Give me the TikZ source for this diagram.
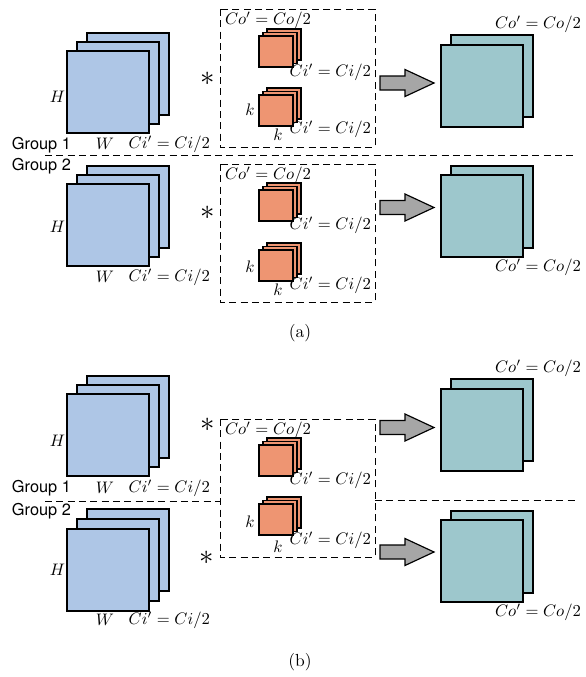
\documentclass[tikz,border=0pt]{standalone}
\usepackage{amsmath,xcolor,tikz}
\usepackage{fontspec}
\newfontfamily\grpfont{TeX Gyre Heros}

\definecolor{inblue}{HTML}{AEC6E6}
\definecolor{kerorange}{HTML}{EE9572}
\definecolor{outteal}{HTML}{9DC7CC}
\definecolor{arrgray}{HTML}{A6A6A6}

% stack of maps: x, y (top left of front one), w, h, last index, dx, dy, fill
\newcommand{\layers}[8]{%
	\foreach \i in {#5,...,0}
		\draw[line width=0.7pt, fill=#8] ({#1+\i*#6},{#2-\i*#7}) rectangle ({#1+\i*#6+#3},{#2-\i*#7+#4});
}
% fat arrow: left end x, centre y
\newcommand{\fatarrow}[2]{%
	\draw[line width=0.7pt, fill=arrgray] (#1,{#2-7}) -- ({#1+25},{#2-7}) -- ({#1+25},{#2-13.5}) -- ({#1+54},#2)
		-- ({#1+25},{#2+13.5}) -- ({#1+25},{#2+7}) -- (#1,{#2+7}) -- cycle;
}

\begin{document}
\begin{tikzpicture}[x=0.6pt, y=-0.6pt,
		every node/.style={font=\fontsize{9.6}{11}\selectfont, inner sep=1pt},
		grp/.style={font=\grpfont\fontsize{9.8}{11}\selectfont},
		conv/.style={font=\LARGE},
		cut/.style={dash pattern=on 4.2pt off 2.6pt, line width=0.6pt}]
			\useasboundingbox (0,0) rectangle (586,677);
			% (a)
			\layers{67}{51}{82}{82}{2}{10}{9}{inblue}
			\layers{67}{184}{82}{82}{2}{10}{9}{inblue}
			\layers{259}{36}{34}{31}{2}{4}{3.5}{kerorange}
			\layers{259}{95}{34}{31}{2}{4}{3.5}{kerorange}
			\layers{259}{190}{34}{31}{2}{4}{3.5}{kerorange}
			\layers{259}{250}{34}{31}{2}{4}{3.5}{kerorange}
			\layers{441}{45}{82}{82}{1}{10}{10}{outteal}
			\layers{441}{175}{82}{82}{1}{10}{9}{outteal}
			\fatarrow{380}{83}
			\fatarrow{380}{207.5}
			\draw[cut] (220,9) rectangle (375,147);
			\draw[cut] (220,164) rectangle (375,302);
			\draw[cut] (45,155) -- (577,155);
			\node[anchor=east] (h1) at (67,97) {$H$};
			\node (w1) at (105,144) {$W$};
			\node[anchor=east] (ci1) at (212,144) {$Ci' = Ci/2$};
			\node[grp, anchor=west] (g1) at (10,145) {Group 1};
			\node[grp, anchor=west] (g2) at (10,166) {Group 2};
			\node[anchor=east] (h2) at (67,227) {$H$};
			\node (w2) at (105,277) {$W$};
			\node[anchor=east] (ci2) at (212,277) {$Ci' = Ci/2$};
			\node[conv] (s1) at (208,79) {$\ast$};
			\node[conv] (s2) at (208,213) {$\ast$};
			\node[anchor=west] (co1) at (223,20) {$Co' = Co/2$};
			\node[anchor=west] (co2) at (223,175) {$Co' = Co/2$};
			\node[anchor=east] (ka1) at (373,72) {$Ci' = Ci/2$};
			\node[anchor=east] (kb1) at (373,129) {$Ci' = Ci/2$};
			\node[anchor=east] (ka2) at (373,225) {$Ci' = Ci/2$};
			\node[anchor=east] (kb2) at (373,285) {$Ci' = Ci/2$};
			\node (kl1) at (250,110) {$k$};
			\node (kd1) at (278,135) {$k$};
			\node (kl2) at (250,267) {$k$};
			\node (kd2) at (278,290) {$k$};
			\node[anchor=east] (o1) at (583,24) {$Co' = Co/2$};
			\node[anchor=east] (o2) at (583,267) {$Co' = Co/2$};
			\node[font=\fontsize{10.5}{12}\selectfont] (capa) at (300,333) {(a)};
			% (b)
			\layers{67}{394}{82}{82}{2}{10}{9}{inblue}
			\layers{67}{529}{82}{82}{2}{10}{10}{inblue}
			\layers{259}{445}{34}{31}{2}{4}{3.5}{kerorange}
			\layers{259}{504}{34}{31}{2}{4}{3.5}{kerorange}
			\layers{441}{389}{82}{82}{1}{10}{10}{outteal}
			\layers{441}{520}{82}{82}{1}{10}{9}{outteal}
			\fatarrow{380}{427.5}
			\fatarrow{380}{552}
			\draw[cut] (220,419) rectangle (375,557);
			\draw[cut] (45,501) -- (220,501);
			\draw[cut] (375,500) -- (577,500);
			\node[anchor=east] (h3) at (67,441) {$H$};
			\node (w3) at (105,488) {$W$};
			\node[anchor=east] (ci3) at (212,488) {$Ci' = Ci/2$};
			\node[grp, anchor=west] (g3) at (10,488) {Group 1};
			\node[grp, anchor=west] (g4) at (10,511) {Group 2};
			\node[anchor=east] (h4) at (67,570) {$H$};
			\node (w4) at (105,620) {$W$};
			\node[anchor=east] (ci4) at (212,620) {$Ci' = Ci/2$};
			\node[conv] (s3) at (208,425) {$\ast$};
			\node[conv] (s4) at (207,558) {$\ast$};
			\node[anchor=west] (co3) at (223,430) {$Co' = Co/2$};
			\node[anchor=east] (ka3) at (373,480) {$Ci' = Ci/2$};
			\node[anchor=east] (kb3) at (373,540) {$Ci' = Ci/2$};
			\node (kl3) at (250,522) {$k$};
			\node (kd3) at (278,547) {$k$};
			\node[anchor=east] (o3) at (583,368) {$Co' = Co/2$};
			\node[anchor=east] (o4) at (583,612) {$Co' = Co/2$};
			\node[font=\fontsize{10.5}{12}\selectfont] (capb) at (300,662) {(b)};
		\end{tikzpicture}
\end{document}
